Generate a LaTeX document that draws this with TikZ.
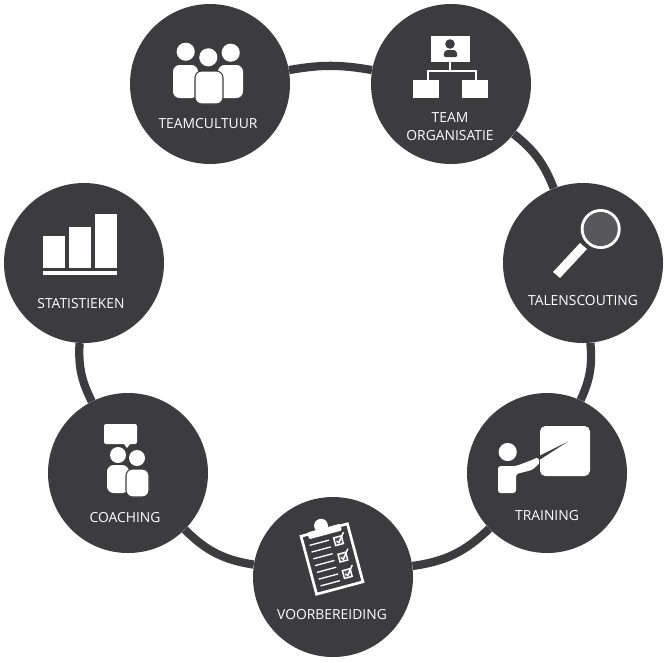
\documentclass[tikz,border=0pt]{standalone}
\usepackage{fontspec}
\setmainfont{Open Sans}
\usetikzlibrary{arrows, calc}
\definecolor{ringdark}{HTML}{3C3C3E}
\definecolor{lensgrey}{HTML}{58585A}
\tikzset{
  ringnode/.style={circle, fill=ringdark, minimum size=120pt, inner sep=0pt},
  ringlabel/.style={text=white, font=\fontsize{10.4}{13}\selectfont, align=center, inner sep=0pt},
  ringline/.style={draw=ringdark, line width=6.2pt},
  iconline/.style={draw=white, line width=1.5pt},
  iconbody/.style={fill=white, draw=ringdark, line width=0.8pt, rounded corners=5pt}
}

\begin{document}
\begin{tikzpicture}[x=0.75pt, y=-0.75pt]
    \useasboundingbox (0,0) rectangle (670,662);
    % circles
    \node [ringnode] (teamcultuur) at (210,84) {};
    \node [ringnode] (organisatie) at (451,84) {};
    \node [ringnode] (talen) at (583,263) {};
    \node [ringnode] (training) at (547,473) {};
    \node [ringnode] (voorbereiding) at (333,577) {};
    \node [ringnode] (coaching) at (128,473) {};
    \node [ringnode] (statistieken) at (84,263) {};
    % ring pieces
    \draw [ringline] (teamcultuur) to [bend left=10] (organisatie);
    \draw [ringline] (organisatie) to [bend left=15] (talen);
    \draw [ringline] (talen) to [bend left=15] (training);
    \draw [ringline] (training) to [bend left=18] (voorbereiding);
    \draw [ringline] (voorbereiding) to [bend left=18] (coaching);
    \draw [ringline] (coaching) to [bend left=15] (statistieken);
    % labels
    \node [ringlabel] (teamcultuurtext) at (208,124) {TEAMCULTUUR};
    \node [ringlabel] (organisatietext) at (450,126.5) {TEAM\\ORGANISATIE};
    \node [ringlabel] (talentext) at (583,300.5) {TALENSCOUTING};
    \node [ringlabel] (trainingtext) at (547,516) {TRAINING};
    \node [ringlabel] (voorbereidingtext) at (332,614.5) {VOORBEREIDING};
    \node [ringlabel] (coachingtext) at (125,518) {COACHING};
    \node [ringlabel] (statistiekentext) at (81,304) {STATISTIEKEN};
    % teamcultuur icon
    \fill [white] (185.7,51.7) circle (6.8pt);
    \fill [white] (230.7,52.7) circle (6.8pt);
    \fill [white] (208.3,57.3) circle (6.8pt);
    \draw [iconbody, draw=none] (173,65) rectangle (198,98);
    \draw [iconbody, draw=none] (218,65) rectangle (243,98);
    \draw [iconbody] (195,71) rectangle (223,104);
    % organisatie icon
    \fill [white] (431,36) rectangle (470,62);
    \fill [ringdark] (450,44) circle (3.6pt);
    \fill [ringdark, rounded corners=2pt] (443,57) -- (445,50) -- (456,50) -- (458,57) -- cycle;
    \draw [iconline] (450,62) -- (450,71);
    \draw [iconline] (428,80) -- (428,71) -- (476,71) -- (476,80);
    \fill [white] (413,80) rectangle (439,98);
    \fill [white] (462,80) rectangle (488,98);
    % talen icon
    \fill [white] (553,272) -- (580,243) -- (587,249) -- (560,278) -- cycle;
    \fill [white] (600.7,229) circle (15pt);
    \fill [lensgrey] (600.7,229) circle (12.8pt);
    % training icon
    \fill [white, rounded corners=4pt] (540,426) rectangle (590,476);
    \fill [white] (507.7,452) circle (6.8pt);
    \fill [white, rounded corners=2pt] (498,466) -- (516,466) -- (532,460) -- (538,457) -- (540,463) -- (532,470) -- (516,474) -- (516,493) -- (498,493) -- cycle;
    \fill [ringdark] (538,456.5) -- (568,441.5) -- (540,459.5) -- cycle;
    % voorbereiding icon
    \begin{scope}[shift={(332,559)}, rotate=15]
      \draw [iconline, line width=2pt, fill=ringdark] (-24,-30) rectangle (24,30);
      \fill [white] (-2,-35) circle (5.2pt);
      \fill [white, rounded corners=1pt] (-17,-32) rectangle (17,-25);
      \foreach \y in {-19,-12,-5,2,9,16,23}
        \draw [draw=white, line width=1pt] (-18,\y) -- (2,\y);
      \foreach \y in {-16,1,18} {
        \draw [draw=white, line width=1.1pt, fill=lensgrey] (7,\y-4) rectangle (15,\y+4);
        \draw [draw=white, line width=1.1pt] (9,\y) -- (11,\y+2) -- (18,\y-7);
      }
    \end{scope}
    % coaching icon
    \fill [white, rounded corners=1.5pt] (104,424) rectangle (137,444);
    \fill [white] (124,444) -- (130,444) -- (127,448) -- cycle;
    \fill [white] (118,455) circle (6pt);
    \fill [white] (137,458) circle (6pt);
    \draw [iconbody, draw=none] (107,465) rectangle (129,493);
    \draw [iconbody] (126,469) rectangle (149,497);
    % statistieken icon
    \fill [white] (43,236) rectangle (65,268);
    \fill [white] (69,227) rectangle (91,268);
    \fill [white] (95,214) rectangle (117,268);
    \fill [white] (43,271) rectangle (117,275);
\end{tikzpicture}
\end{document}
